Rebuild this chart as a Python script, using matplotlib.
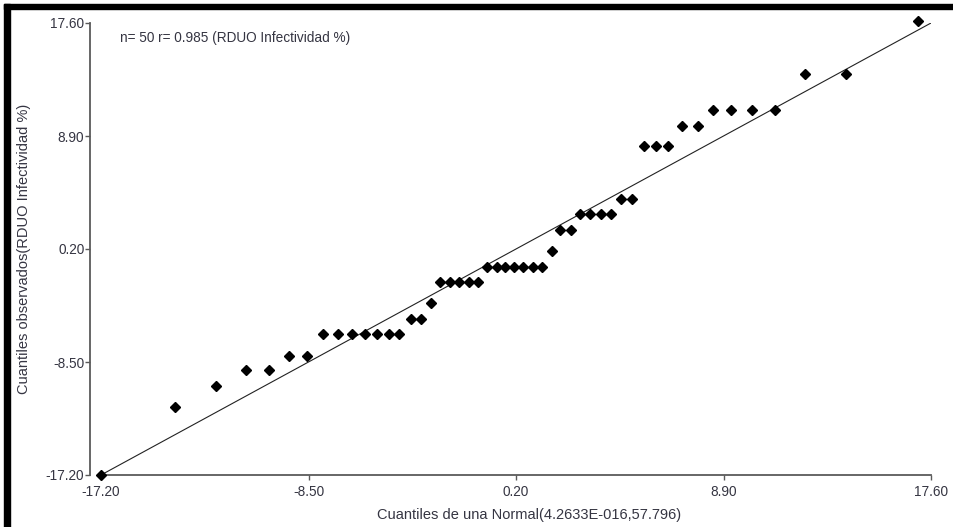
import matplotlib
matplotlib.use('Agg')
import matplotlib.pyplot as plt
from matplotlib.patches import Rectangle
import numpy as np

plt.rcParams['font.family'] = ['Liberation Sans', 'DejaVu Sans']

x_q = [-17.20, -14.10, -12.38, -11.13, -10.17, -9.30, -8.56,
       -7.88, -7.27, -6.69, -6.15, -5.62, -5.14, -4.71,
       -4.20, -3.78, -3.35,
       -2.98, -2.57, -2.18, -1.76, -1.41,
       -1.00, -0.61, -0.25, 0.13, 0.51, 0.90, 1.28,
       1.70, 2.06, 2.49,
       2.88, 3.32, 3.75, 4.17,
       4.60, 5.08,
       5.55, 6.06, 6.57,
       7.16, 7.82,
       8.46, 9.21, 10.08, 11.07,
       12.32, 14.04, 17.04]
y_q = [-17.20, -11.94, -10.32, -9.12, -9.12, -8.00, -8.00,
       -6.37, -6.37, -6.37, -6.37, -6.37, -6.37, -6.37,
       -5.19, -5.19, -3.98,
       -2.37, -2.37, -2.37, -2.37, -2.37,
       -1.16, -1.16, -1.16, -1.16, -1.16, -1.16, -1.16,
       0.07, 1.66, 1.66,
       2.89, 2.89, 2.89, 2.89,
       4.07, 4.07,
       8.13, 8.13, 8.13,
       9.65, 9.65,
       10.88, 10.88, 10.88, 10.88,
       13.70, 13.70, 17.73]
line_x = [-17.20, 17.60]
line_y = [-17.20, 17.60]
ticks = [-17.20, -8.50, 0.20, 8.90, 17.60]
tick_labels = ['-17.20', '-8.50', '0.20', '8.90', '17.60']

txt_col = '#353542'
W, H = 954, 527
fig = plt.figure(figsize=(W / 100, H / 100), dpi=100)
ax = fig.add_axes([101 / W, 1 - 475 / H, (931 - 101) / W, (475 - 23) / H])

ax.plot(line_x, line_y, color='#222222', lw=0.8, zorder=2)
ax.plot(x_q, y_q, 'D', color='black', markersize=4.6, clip_on=False, zorder=3)

ax.set_xlim(-17.2, 17.6)
ax.set_ylim(-17.2, 17.6)
ax.set_xticks(ticks, tick_labels)
ax.set_yticks(ticks, tick_labels)
for s in ['top', 'right']:
    ax.spines[s].set_visible(False)
for s in ['left', 'bottom']:
    ax.spines[s].set_color('#5a5a5a')
    ax.spines[s].set_linewidth(1.3)
# y axis sits a little to the left of the plotting area
ax.spines['left'].set_position(('outward', 8))
ax.tick_params(direction='out', length=3.5, width=1, color='#5a5a5a',
               labelsize=9.8, labelcolor=txt_col)
ax.tick_params(axis='x', pad=3.5)
ax.tick_params(axis='y', pad=0.5)

ax.set_xlabel('Cuantiles de una Normal(4.2633E-016,57.796)', fontsize=10.5,
              color=txt_col)
ax.xaxis.set_label_coords(0.516, -0.073)
ax.set_ylabel('Cuantiles observados(RDUO Infectividad %)', fontsize=10.5,
              color=txt_col)
ax.yaxis.set_label_coords(-0.084, 0.5)
ax.text(120, H - 38, 'n= 50 r= 0.985 (RDUO Infectividad %)', transform=None,
        fontsize=9.8, color=txt_col, va='center', ha='left')

# thick black frame (top and left edges of the screenshot)
fig.patches.append(Rectangle((4 / W, 1 - 9 / H), 1, 5 / H, transform=fig.transFigure,
                             color='black', zorder=10))
fig.patches.append(Rectangle((4 / W, 0), 6 / W, 1 - 4 / H, transform=fig.transFigure,
                             color='black', zorder=10))

fig.savefig('out.png', dpi=100)
